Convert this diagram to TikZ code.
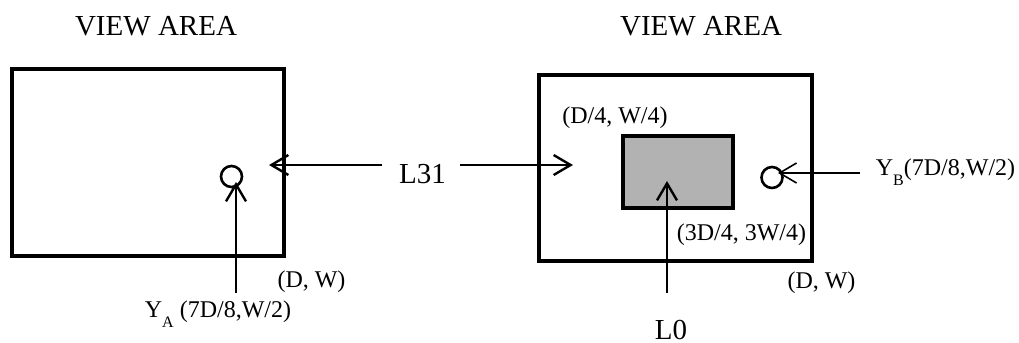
\documentclass[tikz,border=0pt]{standalone}
\usepackage{fontspec}
\setmainfont{Liberation Serif}
\usetikzlibrary{arrows.meta}

\newcommand{\lowsub}[1]{\raisebox{-0.42em}{\fontsize{8}{9}\selectfont #1}}

\begin{document}
\begin{tikzpicture}[
    x=0.5pt, y=-0.5pt,
    area/.style={draw=black, line width=1.7pt},
    hole/.style={circle, draw=black, line width=1.3pt, minimum size=10.5pt, inner sep=0pt},
    arr/.style={-{Straight Barb[length=8.5pt, width=10pt]}, line width=1.2pt},
    big/.style={font=\fontsize{14.5}{17}\selectfont, anchor=base, inner sep=0pt},
    small/.style={font=\fontsize{12}{14}\selectfont, anchor=base, inner sep=0pt}
]
\useasboundingbox (0,0) rectangle (1019,343);

% left view area
\node[big] (titleA) at (156,35) {VIEW AREA};
\draw[area] (12,69) rectangle (284,256);
\node[hole] (ya) at (231.5,176.5) {};
\coordinate (yaTail) at (236,293);
\coordinate (yaTip)  at (236,182);
\draw[arr] (yaTail) -- (yaTip);
\node[small] (dwA) at (311.5,287) {(D, W)};
\node[small] (labA) at (218,317) {Y\lowsub{A} (7D/8,W/2)};

% L31 between both areas
\node[big] (L31) at (422.5,183) {L31};
\coordinate (l31w) at (382,165);
\coordinate (l31e) at (460,165);
\coordinate (tipL) at (269,165);
\coordinate (tipR) at (573,165);
\draw[arr] (l31w) -- (tipL);
\draw[arr] (l31e) -- (tipR);

% right view area
\node[big] (titleB) at (701,35) {VIEW AREA};
\draw[area] (539,75) rectangle (812,261);
\draw[area, fill=black!30] (623,136) rectangle (733,208);
\node[small] (tl) at (615,123) {(D/4, W/4)};
\node[small] (br) at (741.5,240) {(3D/4, 3W/4)};
\node[small] (dwB) at (821.5,288) {(D, W)};
\node[hole] (yb) at (772,177.5) {};
\coordinate (ybTail) at (860,173);
\coordinate (ybTip)  at (778,173);
\draw[arr, line width=0.8pt] (ybTail) -- (ybTip);
\node[small] (labB) at (945.5,175) {Y\lowsub{B}(7D/8,W/2)};

% L0 from below
\node[big] (L0) at (671,339) {L0};
\coordinate (l0Tail) at (667,293);
\coordinate (l0Tip)  at (667,181);
\draw[arr] (l0Tail) -- (l0Tip);
\end{tikzpicture}
\end{document}
